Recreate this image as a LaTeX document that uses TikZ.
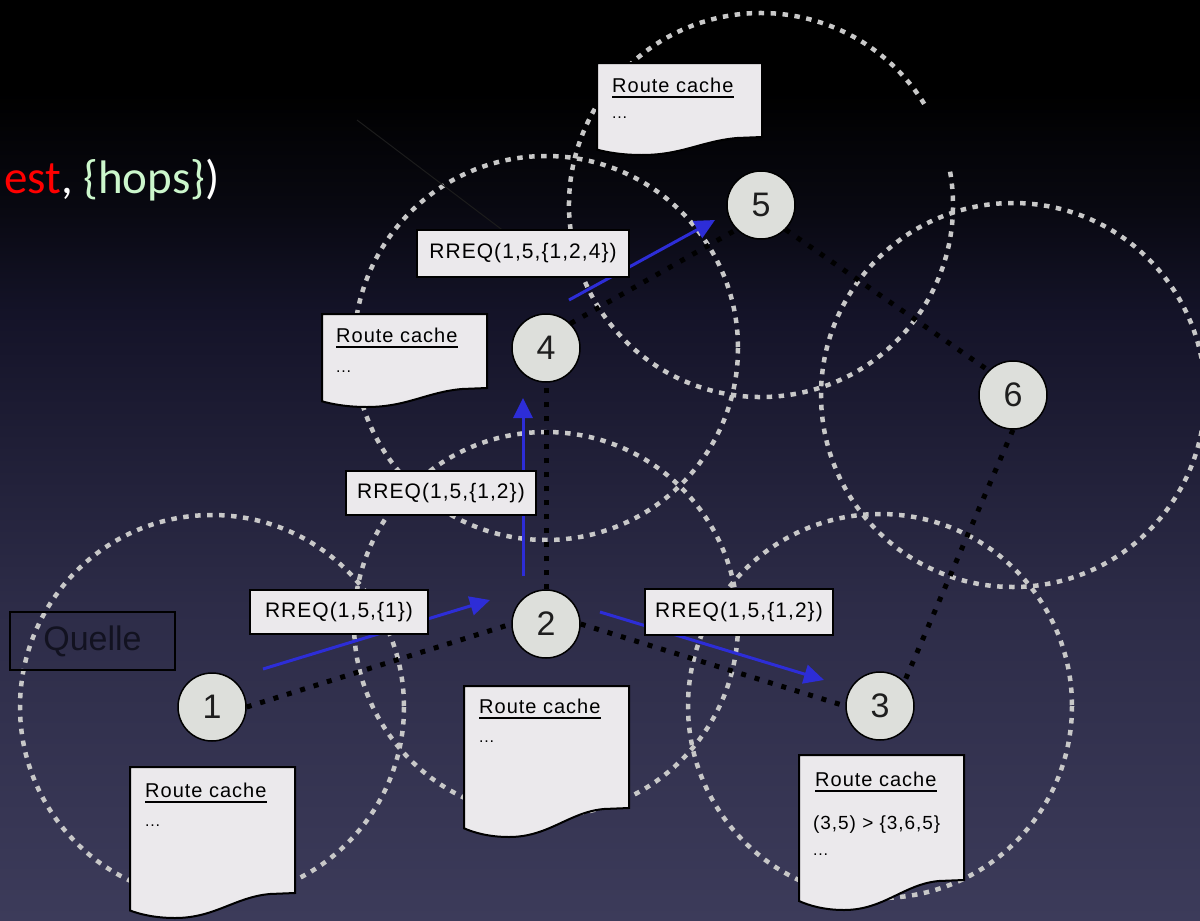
\documentclass[tikz,border=0pt]{standalone}
\usepackage{fontspec}
\setmainfont{Liberation Sans}
\newfontfamily\lblfont[LetterSpace=5]{Liberation Sans}
\newfontfamily\titlefont{Carlito}
\usetikzlibrary{arrows.meta}
\definecolor{bgA}{RGB}{60,59,90}
\definecolor{bgB}{RGB}{45,44,72}
\definecolor{bgC}{RGB}{20,19,40}
\definecolor{bgD}{RGB}{8,8,16}
\definecolor{ringgray}{RGB}{200,200,200}
\definecolor{msgblue}{RGB}{45,45,215}
\definecolor{nodefill}{RGB}{221,223,219}
\definecolor{paper}{RGB}{235,233,236}
\definecolor{numgray}{RGB}{30,30,30}
\definecolor{quelletext}{RGB}{18,18,32}
\definecolor{titlered}{RGB}{255,0,0}
\definecolor{titlegreen}{RGB}{204,247,204}
\definecolor{faintgray}{RGB}{28,28,28}
\pgfdeclareverticalshading{bgshade}{100bp}{color(0bp)=(bgA); color(25bp)=(bgA); color(42bp)=(bgB); color(58bp)=(bgC); color(64bp)=(bgD); color(70bp)=(black); color(100bp)=(black)}
\pgfdeclarelayer{back}
\pgfdeclarelayer{rings}
\pgfdeclarelayer{links}
\pgfdeclarelayer{boxes}
\pgfsetlayers{back,rings,links,boxes,main}
\newcommand\rcdoc[4]{%
  \filldraw[docpaper] (#1,#2) -- ({#1+165},#2) -- ({#1+165},{#2+#3}) -- ({#1+140},{#2+#3+1})
   .. controls ({#1+105},{#2+#3+4}) and ({#1+85},{#2+#3+#4}) .. ({#1+45},{#2+#3+#4})
   .. controls ({#1+25},{#2+#3+#4}) and ({#1+10},{#2+#3+0.85*#4}) .. (#1,{#2+#3+0.7*#4}) -- cycle;}
\begin{document}
\begin{tikzpicture}[x=1pt,y=-1pt,
  ringline/.style={draw=ringgray, line width=4.5pt, dash pattern=on 5.5pt off 6.5pt},
  hoplink/.style={draw=black, line width=5pt, dash pattern=on 5pt off 9pt},
  reqarrow/.style={draw=msgblue, line width=3pt, -{Triangle[length=20pt,width=19pt]}},
  stationnode/.style={circle, draw=black, line width=1.5pt, fill=nodefill, minimum size=68pt, inner sep=0pt, text=numgray, font=\fontsize{34}{34}\selectfont},
  reqbox/.style={draw=black, line width=1.8pt, fill=paper, inner sep=0pt, font=\lblfont\fontsize{21}{21}\selectfont},
  docpaper/.style={draw=black, line width=2pt, fill=paper},
  rctitle/.style={anchor=base west, inner sep=0pt, font=\lblfont\fontsize{20}{20}\selectfont},
  rcbody/.style={anchor=base west, inner sep=0pt, font=\lblfont\fontsize{19}{19}\selectfont},
  rcdots/.style={anchor=base west, inner sep=0pt, font=\lblfont\fontsize{16}{16}\selectfont},
  underl/.style={draw=black, line width=2.5pt}
]
\useasboundingbox (0,0) rectangle (1200,921);
\begin{pgfonlayer}{back}
\fill[shading=bgshade] (0,0) rectangle (1200,921);
\end{pgfonlayer}

% station positions
\coordinate (c1) at (212,707);
\coordinate (c2) at (546,624);
\coordinate (c3) at (880,706);
\coordinate (c4) at (546,348);
\coordinate (c5) at (761,205);
\coordinate (c6) at (1013,395);

% stations
\node[stationnode] (n1) at (c1) {1};
\node[stationnode] (n2) at (c2) {2};
\node[stationnode] (n3) at (c3) {3};
\node[stationnode] (n4) at (c4) {4};
\node[stationnode] (n5) at (c5) {5};
\node[stationnode] (n6) at (c6) {6};

% title fragment
\node[anchor=base west, inner sep=0pt, font=\titlefont\fontsize{47}{47}\selectfont] (title) at (4,193)
  {\textcolor{titlered}{est}\textcolor{white}{, }\textcolor{titlegreen}{\{hops\}}\textcolor{white}{)}};

% source label
\node[draw=black, line width=2pt, minimum width=165pt, minimum height=58pt, inner sep=0pt,
  text=quelletext, font=\fontsize{34}{34}\selectfont] (quelle) at (92.5,641) {Quelle};

\begin{pgfonlayer}{rings}
\draw[ringline] (c1) circle[radius=192];
\draw[ringline] (c2) circle[radius=192];
\draw[ringline] (c3) circle[radius=192];
\draw[ringline] (c4) circle[radius=192];
\draw[ringline] (c5) ++(-10:192) arc[start angle=-10, end angle=329, radius=192];
\draw[ringline] (c6) circle[radius=192];
\coordinate (f1) at (357,120);
\coordinate (f2) at (505,232);
\draw[draw=faintgray, line width=1pt] (f1) -- (f2);
\end{pgfonlayer}

\begin{pgfonlayer}{links}
\draw[hoplink] (n1.east) -- (n2.west);
\draw[hoplink] (n2.east) -- (n3.west);
\draw[hoplink] (n2.north) -- (n4.south);
\draw[hoplink] (n4.north east) -- (n5.south west);
\draw[hoplink] (n5.south east) -- (n6.north west);
\draw[hoplink] (n6.south) -- (n3.north east);
% request arrows
\coordinate (b1s) at (263,669); \coordinate (b1e) at (490,600);
\coordinate (b2s) at (523,576); \coordinate (b2e) at (523,398);
\coordinate (b3s) at (600,612); \coordinate (b3e) at (824,680);
\coordinate (b4s) at (569,300); \coordinate (b4e) at (715,220);
\draw[reqarrow] (b1s) -- (b1e);
\draw[reqarrow] (b2s) -- (b2e);
\draw[reqarrow] (b3s) -- (b3e);
\draw[reqarrow] (b4s) -- (b4e);
\end{pgfonlayer}

\begin{pgfonlayer}{boxes}
\node[reqbox, minimum width=178pt, minimum height=44pt] (r1) at (339,612) {RREQ(1,5,\{1\})};
\node[reqbox, minimum width=188pt, minimum height=46pt] (r3) at (739,612) {RREQ(1,5,\{1,2\})};
\node[reqbox, minimum width=190pt, minimum height=44pt] (r2) at (441,493) {RREQ(1,5,\{1,2\})};
\node[reqbox, minimum width=212pt, minimum height=47pt] (r4) at (523,253.5) {RREQ(1,5,\{1,2,4\})};

% route caches
\rcdoc{130}{767}{126}{25}
\node[rctitle] (rc1t) at (145,797) {Route cache};
\draw[underl] ([yshift=-5pt]rc1t.base west) -- ([yshift=-5pt]rc1t.base east);
\node[rcdots] (rc1d) at (145,826) {...};

\rcdoc{464}{686}{122}{29}
\node[rctitle] (rc2t) at (479,713) {Route cache};
\draw[underl] ([yshift=-5pt]rc2t.base west) -- ([yshift=-5pt]rc2t.base east);
\node[rcdots] (rc2d) at (479,742) {...};

\rcdoc{799}{755}{125}{30}
\node[rctitle] (rc3t) at (815,786) {Route cache};
\draw[underl] ([yshift=-5pt]rc3t.base west) -- ([yshift=-5pt]rc3t.base east);
\node[rcbody] (rc3e) at (813,829) {(3,5) > \{3,6,5\}};
\node[rcdots] (rc3d) at (813,855) {...};

\rcdoc{322}{314}{74}{19}
\node[rctitle] (rc4t) at (336,342) {Route cache};
\draw[underl] ([yshift=-5pt]rc4t.base west) -- ([yshift=-5pt]rc4t.base east);
\node[rcdots] (rc4d) at (336,372) {...};

\rcdoc{597}{63}{74}{18}
\node[rctitle] (rc5t) at (612,92) {Route cache};
\draw[underl] ([yshift=-5pt]rc5t.base west) -- ([yshift=-5pt]rc5t.base east);
\node[rcdots] (rc5d) at (612,118) {...};
\end{pgfonlayer}
\end{tikzpicture}
\end{document}
